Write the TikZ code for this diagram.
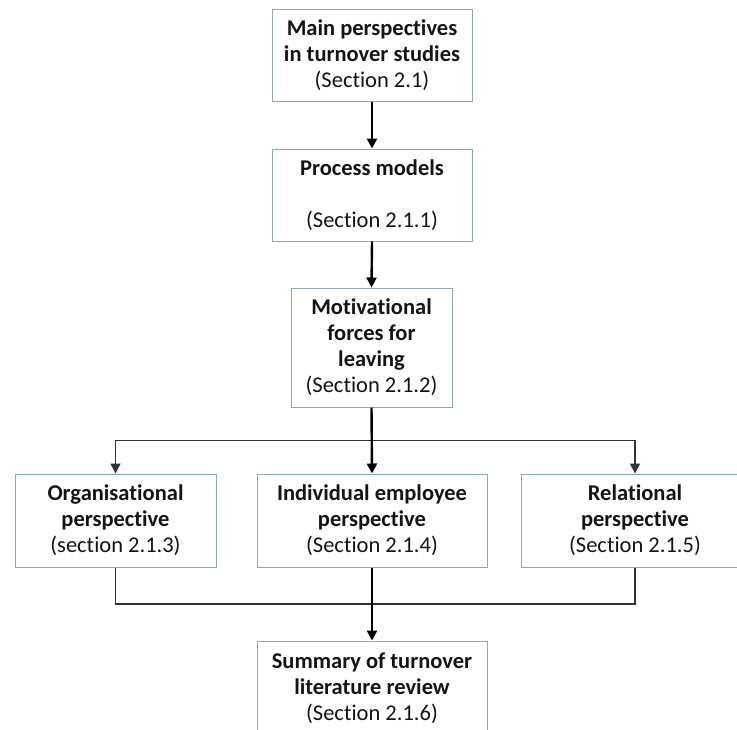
\documentclass[tikz,border=0pt]{standalone}
\usepackage{fontspec}
\setmainfont{Carlito}[Ligatures={NoCommon}]
\usetikzlibrary{arrows.meta,calc}
\definecolor{boxline}{HTML}{8AAAB4}
\definecolor{txt}{HTML}{141414}
\begin{document}
\begin{tikzpicture}[x=1pt,y=-1pt,
  boxnode/.style={draw=boxline, line width=1pt, fill=white, rectangle, align=center,
    inner sep=0pt, text=txt, font=\fontsize{22.5}{26}\selectfont},
  mainline/.style={line width=2.4pt, black, -{Triangle[width=10pt,length=10pt]}},
  branch/.style={line width=1.5pt, black!80},
  brancharrow/.style={branch, -{Triangle[width=10pt,length=10pt]}}]
\useasboundingbox (0,0) rectangle (737,729);
\clip (0,0) rectangle (737,729);
\fill[white] (0,0) rectangle (737,729);

\node[boxnode, minimum width=200pt, minimum height=92pt] (b1) at (372,55)
  {\textbf{Main perspectives}\\\textbf{in turnover studies}\\(Section 2.1)};
\node[boxnode, minimum width=200pt, minimum height=92pt] (b2) at (372,195)
  {\textbf{Process models}\\[26pt](Section 2.1.1)};
\node[boxnode, minimum width=161pt, minimum height=119pt] (b3) at (371.5,347.5)
  {\textbf{Motivational}\\\textbf{forces for}\\\textbf{leaving}\\(Section 2.1.2)};
\node[boxnode, minimum width=201pt, minimum height=93pt] (org) at (115.5,520.5)
  {\textbf{Organisational}\\\textbf{perspective}\\(section 2.1.3)};
\node[boxnode, minimum width=230pt, minimum height=93pt] (ind) at (372,520.5)
  {\textbf{Individual employee}\\\textbf{perspective}\\(Section 2.1.4)};
\node[boxnode, minimum width=228pt, minimum height=93pt] (rel) at (635,520.5)
  {\textbf{Relational}\\\textbf{perspective}\\(Section 2.1.5)};
\node[boxnode, minimum width=230pt, minimum height=94pt] (sum) at (372,688)
  {\textbf{Summary of turnover}\\\textbf{literature review}\\(Section 2.1.6)};

\coordinate (split) at ($(b3.south)!0.5!(ind.north)$);
\coordinate (join) at ($(ind.south)!0.5!(sum.north)$);

\draw[mainline] (b1.south) -- (b2.north);
\draw[mainline] (b2.south) -- (b3.north);
\draw[brancharrow] (split) -| (org.north);
\draw[brancharrow] (split) -| (rel.north);
\draw[branch] (org.south) |- (join) -| (rel.south);
\draw[mainline] (b3.south) -- (ind.north);
\draw[mainline] (ind.south) -- (sum.north);
\end{tikzpicture}
\end{document}
